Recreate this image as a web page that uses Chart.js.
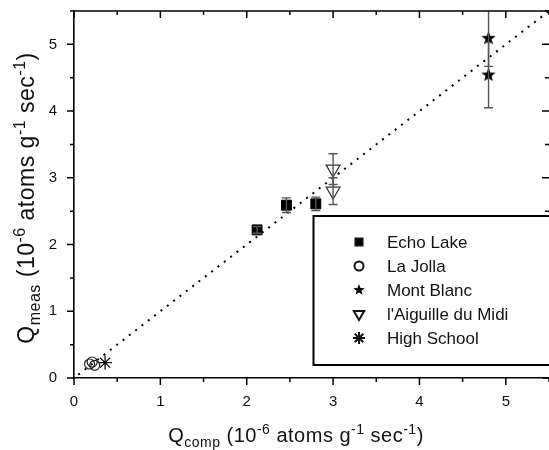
<!DOCTYPE html>
<html>
<head>
<meta charset="utf-8">
<script src="https://cdn.jsdelivr.net/npm/chart.js@4/dist/chart.umd.min.js"></script>
<style>
  html, body { margin: 0; padding: 0; background: #fff; }
  #wrap { width: 549px; height: 450px; }
</style>
</head>
<body>
<div id="wrap"><canvas id="myChart" width="549" height="450"></canvas></div>
<script>
/* data (units: 10^-6 atoms g^-1 sec^-1) */
const echoX = [2.12, 2.46, 2.80];
const echoY = [2.22, 2.59, 2.61];
const echoErr = [0.05, 0.11, 0.10];

const jollaX = [0.18, 0.21, 0.24];
const jollaY = [0.21, 0.24, 0.19];

const blancX = [4.80, 4.80];
const blancY = [5.09, 4.54];
const blancErr = [0.42, 0.49];

const midiX = [3.00, 3.00];
const midiY = [3.13, 2.80];
const midiErr = [0.23, 0.20];

const schoolX = [0.36];
const schoolY = [0.23];

// 1:1 line
const lineX = [0.05, 5.5];
const lineY = [0.05, 5.5];

const axisMin = 0;
const axisMax = 5.5;

function pts(xs, ys) {
  return xs.map((x, i) => ({ x: x, y: ys[i] }));
}

// filled five point star used as point style
function starCanvas(r) {
  const c = document.createElement('canvas');
  const s = Math.ceil(r * 2 + 2);
  c.width = s; c.height = s;
  const g = c.getContext('2d');
  g.fillStyle = '#000';
  g.beginPath();
  for (let i = 0; i < 10; i++) {
    const rad = i % 2 === 0 ? r : r * 0.42;
    const a = -Math.PI / 2 + i * Math.PI / 5;
    const px = s / 2 + rad * Math.cos(a), py = s / 2 + rad * Math.sin(a);
    if (i === 0) g.moveTo(px, py); else g.lineTo(px, py);
  }
  g.closePath();
  g.fill();
  return c;
}
const bigStar = starCanvas(7.5);
const smallStar = starCanvas(6);

/* error bars, ticks on four sides, axis titles, boxed legend */
const decor = {
  id: 'decor',
  afterDatasetsDraw(chart) {
    const ctx = chart.ctx;
    const xs = chart.scales.x, ys = chart.scales.y;
    const a = chart.chartArea;

    // error bars
    ctx.save();
    ctx.beginPath();
    ctx.rect(a.left, a.top, a.right - a.left, a.bottom - a.top);
    ctx.clip();
    ctx.strokeStyle = '#555';
    ctx.lineWidth = 1.4;
    chart.data.datasets.forEach(ds => {
      if (!ds.err) return;
      ds.data.forEach((p, i) => {
        const px = xs.getPixelForValue(p.x);
        const y1 = ys.getPixelForValue(p.y + ds.err[i]);
        const y2 = ys.getPixelForValue(p.y - ds.err[i]);
        ctx.beginPath();
        ctx.moveTo(px, y1); ctx.lineTo(px, y2);
        ctx.moveTo(px - 4.5, y1); ctx.lineTo(px + 4.5, y1);
        ctx.moveTo(px - 4.5, y2); ctx.lineTo(px + 4.5, y2);
        ctx.stroke();
      });
    });
    ctx.restore();

    // top frame line and ticks (right edge sits at the picture border)
    ctx.save();
    ctx.strokeStyle = '#000';
    ctx.lineWidth = 1.6;
    ctx.beginPath();
    ctx.moveTo(a.left, a.top); ctx.lineTo(a.right, a.top);
    ctx.stroke();
    ctx.lineWidth = 1.5;
    ctx.beginPath();
    xs.ticks.forEach(t => {
      const len = Number.isInteger(t.value) ? 7 : 4;
      const px = xs.getPixelForValue(t.value);
      ctx.moveTo(px, a.bottom); ctx.lineTo(px, a.bottom + len);
      ctx.moveTo(px, a.top); ctx.lineTo(px, a.top + len);
    });
    ys.ticks.forEach(t => {
      const len = Number.isInteger(t.value) ? 7 : 4;
      const py = ys.getPixelForValue(t.value);
      ctx.moveTo(a.left, py); ctx.lineTo(a.left - len, py);
      ctx.moveTo(a.right, py); ctx.lineTo(a.right - len, py);
    });
    ctx.stroke();
    ctx.restore();

    // axis titles with sub/superscripts
    function parts(sub, size) {
      const big = size + 'px "Liberation Sans", Arial, sans-serif';
      const small = Math.round(size * 0.7) + 'px "Liberation Sans", Arial, sans-serif';
      const up = -Math.round(size * 0.4), down = Math.round(size * 0.25);
      return [
        ['Q', big, 0], [sub, small, down], [' (10', big, 0], ['-6', small, up],
        [' atoms g', big, 0], ['-1', small, up], [' sec', big, 0], ['-1', small, up], [')', big, 0]
      ];
    }
    function drawTitle(list, cx, cy, rot) {
      ctx.save();
      ctx.translate(cx, cy);
      ctx.rotate(rot);
      ctx.fillStyle = '#111';
      ctx.textBaseline = 'alphabetic';
      ctx.letterSpacing = '0.5px';
      let w = 0;
      list.forEach(p => { ctx.font = p[1]; w += ctx.measureText(p[0]).width; });
      let x = -w / 2;
      list.forEach(p => {
        ctx.font = p[1];
        ctx.fillText(p[0], x, p[2]);
        x += ctx.measureText(p[0]).width;
      });
      ctx.restore();
    }
    drawTitle(parts('comp', 20), 296, 442, 0);
    drawTitle(parts('meas', 23), 34, 198, -Math.PI / 2);

    // legend box
    const bx = 313.5, by = 216, bw = 240, bh = 149;
    ctx.save();
    ctx.fillStyle = '#fff';
    ctx.fillRect(bx, by, bw, bh);
    ctx.strokeStyle = '#000';
    ctx.lineWidth = 2;
    ctx.strokeRect(bx, by, bw, bh);
    ctx.font = '17px "Liberation Sans", Arial, sans-serif';
    ctx.textBaseline = 'middle';
    let row = 0;
    chart.data.datasets.forEach(ds => {
      if (!ds.legendStyle) return;
      const ly = 242 + row * 24;
      const s = ds.legendStyle;
      ctx.fillStyle = s.fill ? '#000' : '#fff';
      ctx.strokeStyle = '#111';
      Chart.helpers.drawPoint(ctx, {
        pointStyle: s.style, radius: s.radius, rotation: s.rotation || 0, borderWidth: s.width || 1
      }, 359, ly);
      ctx.fillStyle = '#111';
      ctx.fillText(ds.label, 387, ly + 1);
      row++;
    });
    ctx.restore();
  }
};

const font = { family: '"Liberation Sans", Arial, sans-serif', size: 15 };

new Chart(document.getElementById('myChart'), {
  type: 'scatter',
  data: {
    datasets: [
      {
        label: '1:1',
        type: 'line',
        data: pts(lineX, lineY),
        borderColor: '#000',
        borderWidth: 2,
        borderDash: [2, 6],
        pointRadius: 0,
        fill: false
      },
      {
        label: 'Echo Lake',
        data: pts(echoX, echoY),
        err: echoErr,
        pointStyle: 'rect',
        pointRadius: 7,
        backgroundColor: '#000',
        borderColor: '#000',
        borderWidth: 1,
        legendStyle: { style: 'rect', radius: 5, fill: true }
      },
      {
        label: 'La Jolla',
        data: pts(jollaX, jollaY),
        pointStyle: 'circle',
        pointRadius: 5,
        backgroundColor: 'rgba(255,255,255,0)',
        borderColor: '#222',
        borderWidth: 1.2,
        legendStyle: { style: 'circle', radius: 4.5, fill: false }
      },
      {
        label: 'Mont Blanc',
        data: pts(blancX, blancY),
        err: blancErr,
        pointStyle: bigStar,
        legendStyle: { style: smallStar, radius: 6, fill: true }
      },
      {
        label: "l'Aiguille du Midi",
        data: pts(midiX, midiY),
        err: midiErr,
        pointStyle: 'triangle',
        rotation: 180,
        pointRadius: 8,
        backgroundColor: '#fff',
        borderColor: '#333',
        borderWidth: 1.2,
        legendStyle: { style: 'triangle', radius: 6, rotation: 180, fill: false }
      },
      {
        label: 'High School',
        data: pts(schoolX, schoolY),
        pointStyle: 'star',
        pointRadius: 7,
        borderColor: '#111',
        borderWidth: 1.3,
        legendStyle: { style: 'star', radius: 6, fill: false, width: 1.1 }
      }
    ]
  },
  options: {
    responsive: false,
    animation: false,
    clip: false,
    layout: { autoPadding: false, padding: { top: 11, right: -2, left: 0, bottom: 0 } },
    plugins: {
      legend: { display: false },
      tooltip: { enabled: false }
    },
    scales: {
      x: {
        type: 'linear',
        min: axisMin,
        max: axisMax,
        afterFit: s => { s.height = 72; s.paddingLeft = 0; s.paddingRight = 0; },
        border: { color: '#000', width: 1.6 },
        grid: { drawOnChartArea: false, drawTicks: false },
        ticks: {
          stepSize: 0.5,
          autoSkip: false,
          maxRotation: 0,
          padding: 15,
          color: '#111',
          font: font,
          callback: v => Number.isInteger(v) ? v : ''
        }
      },
      y: {
        type: 'linear',
        min: axisMin,
        max: axisMax,
        afterFit: s => { s.width = 74; s.paddingTop = 0; s.paddingBottom = 0; },
        border: { color: '#000', width: 1.6 },
        grid: { drawOnChartArea: false, drawTicks: false },
        ticks: {
          stepSize: 0.5,
          autoSkip: false,
          padding: 17,
          color: '#111',
          font: font,
          callback: v => Number.isInteger(v) ? v : ''
        }
      }
    }
  },
  plugins: [decor]
});
</script>
</body>
</html>
